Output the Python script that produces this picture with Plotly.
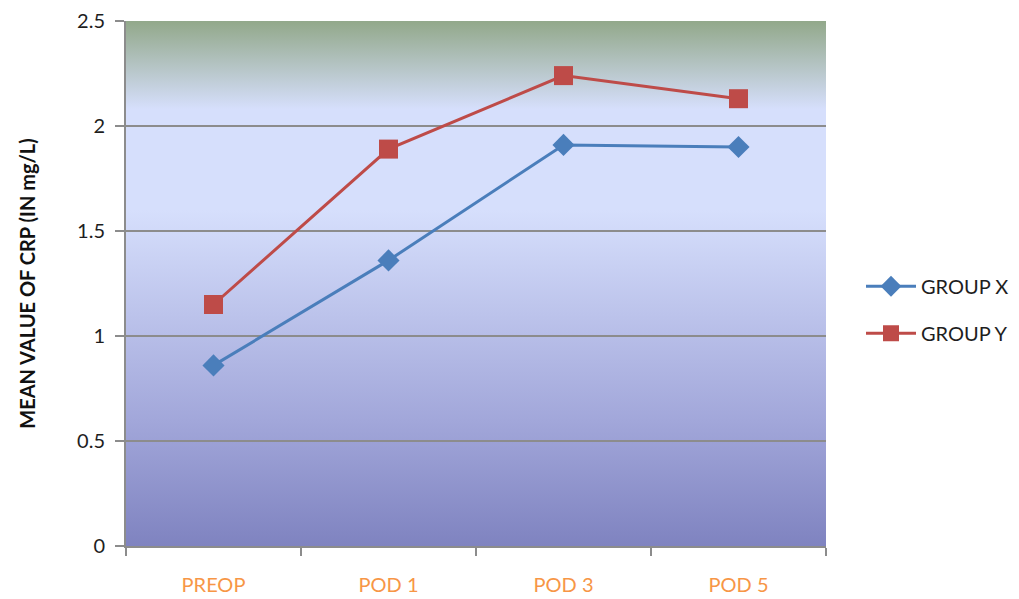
import base64
import plotly.graph_objects as go

# Mean CRP per time point
timepoints = ["PREOP", "POD 1", "POD 3", "POD 5"]
group_x = [0.86, 1.36, 1.91, 1.90]
group_y = [1.15, 1.89, 2.24, 2.13]
y_ticks = [0, 0.5, 1, 1.5, 2, 2.5]

# vertical background gradient for the plotting area (offset 0 = top)
gradient_svg = """<svg xmlns='http://www.w3.org/2000/svg' width='100' height='500' preserveAspectRatio='none'>
<defs><linearGradient id='g' x1='0' y1='0' x2='0' y2='1'>
<stop offset='0' stop-color='#92a88a'/>
<stop offset='0.168' stop-color='#d6dffc'/>
<stop offset='0.36' stop-color='#d6dffc'/>
<stop offset='0.76' stop-color='#a2a7da'/>
<stop offset='1' stop-color='#7f83c0'/>
</linearGradient></defs>
<rect width='100' height='500' fill='url(#g)'/></svg>"""
gradient_uri = "data:image/svg+xml;base64," + base64.b64encode(gradient_svg.encode()).decode()

fig = go.Figure()
fig.add_trace(go.Scatter(
    x=timepoints, y=group_x, name="GROUP X", mode="lines+markers", legendgroup="x",
    line=dict(color="#4a7ebb", width=3),
    marker=dict(symbol="diamond", size=17, color="#4a7ebb"),
))
fig.add_trace(go.Scatter(
    x=timepoints, y=group_y, name="GROUP Y", mode="lines+markers", legendgroup="y",
    line=dict(color="#be4b48", width=3),
    marker=dict(symbol="square", size=19, color="#be4b48"),
))

fig.add_layout_image(dict(
    source=gradient_uri, xref="paper", yref="paper", x=0, y=1,
    sizex=1, sizey=1, xanchor="left", yanchor="top",
    sizing="stretch", layer="below",
))

fig.update_layout(
    width=1019, height=599,
    margin=dict(l=126, r=193, t=21, b=53, autoexpand=False),
    paper_bgcolor="white",
    plot_bgcolor="rgba(0,0,0,0)",
    font=dict(family="Lato, 'Open Sans', sans-serif", size=20, color="#1e1e1e"),
    showlegend=True,
    legend=dict(x=1.05, y=0.45, xanchor="left", yanchor="middle",
                font=dict(size=20, color="#1e1e1e"), itemwidth=50,
                tracegroupgap=18, bgcolor="rgba(0,0,0,0)"),
    xaxis=dict(
        type="category", range=[-0.5, 3.5], tickson="boundaries", automargin=False,
        ticks="outside", ticklen=8, tickwidth=2, tickcolor="#8c8c8c",
        showgrid=False, showline=True, linecolor="#8c8c8c", linewidth=2,
        tickfont=dict(color="#f79646", size=20), ticklabelstandoff=20,
    ),
    yaxis=dict(
        range=[0, 2.5], tickvals=y_ticks, automargin=False,
        ticktext=[str(v) if v % 1 else str(int(v)) for v in y_ticks],
        ticks="outside", ticklen=9, tickwidth=2, tickcolor="#8c8c8c",
        showgrid=True, gridcolor="#8c8c8c", gridwidth=2,
        showline=True, linecolor="#8c8c8c", linewidth=2, zeroline=False,
        tickfont=dict(size=20, color="#1e1e1e"), ticklabelstandoff=6,
        title=dict(text="<b>MEAN VALUE OF CRP (IN mg/L)</b>",
                   font=dict(size=20, color="#111111"), standoff=36),
    ),
)

fig.write_html("out.html")
